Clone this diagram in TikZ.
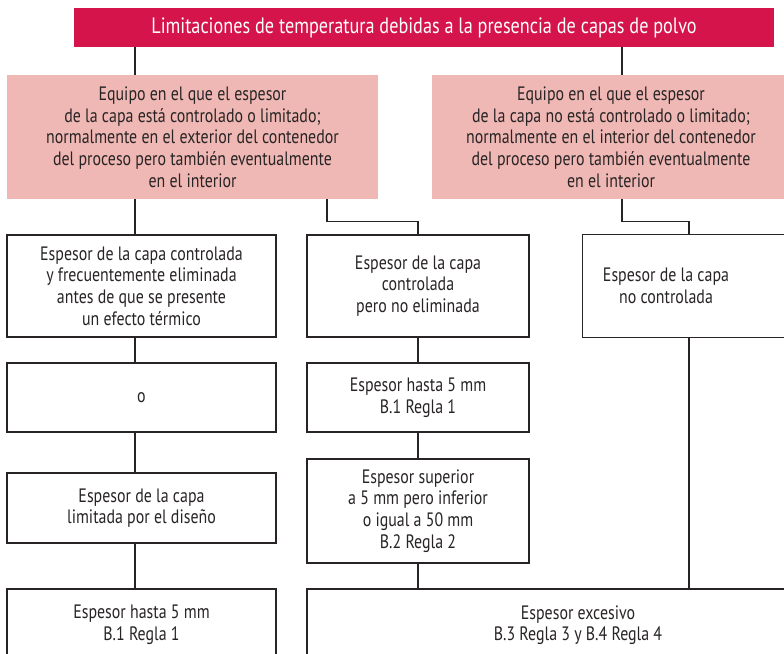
\documentclass[tikz,border=0pt]{standalone}
\usepackage{fontspec}
\setmainfont{PT Sans}[FakeStretch=0.82]
\definecolor{rojoT}{RGB}{212,20,74}
\definecolor{rosaE}{RGB}{240,184,180}
\definecolor{gris}{RGB}{40,36,37}

\begin{document}
\begin{tikzpicture}[
		titblock/.style={rectangle, fill=rojoT, text=white, minimum width=17.5cm,
			minimum height=0.975cm, font=\fontsize{15.8}{18}\selectfont},
		eqblock/.style={rectangle, fill=rosaE, text=gris, align=center,
			minimum height=3.1cm, font=\fontsize{13.8}{15.4}\selectfont},
		block/.style={draw=gris, line width=0.75pt, rectangle, text=gris, align=center,
			font=\fontsize{13.8}{15.4}\selectfont},
		txtblock/.style={rectangle, text=gris, align=center,
			font=\fontsize{13.8}{15.4}\selectfont},
		line/.style={draw=gris, line width=0.75pt},
		]
		\clip (0,0) rectangle (19.6,-16.325);
		
		%% ── COLUMNAS ───────────────────────────────────────────
		\coordinate (colA) at (3.375,0);
		\coordinate (colB) at (10.45,0);
		\coordinate (colC) at (17.225,0);
		\coordinate (tapL) at (8.175,0);
		\coordinate (tapR) at (15.55,0);
		
		%% ── TÍTULO Y EQUIPOS ───────────────────────────────────
		\node[titblock] (titulo) at (10.6,-0.6875)
			{Limitaciones de temperatura debidas a la presencia de capas de polvo};
		\node[eqblock, minimum width=9.275cm] (eqL) at (4.8125,-3.425)
			{Equipo en el que el espesor\\de la capa está controlado o limitado;\\normalmente en el exterior del contenedor\\del proceso pero también eventualmente\\en el interior};
		\node[eqblock, minimum width=8.95cm] (eqR) at (15.275,-3.425)
			{Equipo en el que el espesor\\de la capa no está controlado o limitado;\\normalmente en el interior del contenedor\\del proceso pero también eventualmente\\en el interior};
		
		\draw[line] (titulo.south -| colA) -- (eqL.north -| colA);
		\draw[line] (titulo.south -| tapR) -- (eqR.north -| tapR);
		
		%% ── FILA 2 ─────────────────────────────────────────────
		\node[block, minimum width=6.725cm, minimum height=2.55cm] (espA) at (3.5375,-7.15)
			{Espesor de la capa controlada\\y frecuentemente eliminada\\antes de que se presente\\un efecto térmico};
		\node[block, minimum width=5.55cm, minimum height=2.55cm] (espB) at (10.45,-7.15)
			{Espesor de la capa\\controlada\\pero no eliminada};
		\node[txtblock, minimum width=4.15cm, minimum height=2.55cm] (espC) at (16.65,-7.15)
			{Espesor de la capa\\no controlada};
		\draw[line] (espC.south west) rectangle ([xshift=3cm]espC.north east);
		
		\draw[line] (eqL.south -| colA) -- (espA.north -| colA);
		\draw[line] (eqL.south -| tapL) -- ++(0,-0.55) -| (espB.north);
		\draw[line] (eqR.south -| tapR) -- ++(0,-0.55) -| (espC.north -| colC);
		
		%% ── FILA 3 ─────────────────────────────────────────────
		\node[block, minimum width=6.725cm, minimum height=1.725cm] (espO) at (3.5375,-9.9375) {o};
		\node[block, minimum width=5.55cm, minimum height=1.725cm] (espE) at (10.45,-9.9375)
			{Espesor hasta 5 mm\\B.1 Regla 1};
		\node[block, minimum width=6.725cm, minimum height=1.75cm] (espG) at (3.5375,-12.7)
			{Espesor de la capa\\limitada por el diseño};
		\node[block, minimum width=5.55cm, minimum height=2.6cm] (espF) at (10.45,-12.775)
			{Espesor superior\\a 5 mm pero inferior\\o igual a 50 mm\\B.2 Regla 2};
		
		%% ── FILA INFERIOR ──────────────────────────────────────
		\node[block, minimum width=6.725cm, minimum height=1.8cm] (espH) at (3.5375,-15.625)
			{Espesor hasta 5 mm\\B.1 Regla 1};
		\node[block, minimum width=13.55cm, minimum height=1.8cm] (espI) at (14.45,-15.625)
			{Espesor excesivo\\B.3 Regla 3 y B.4 Regla 4};
		
		% columna izquierda
		\draw[line] (espA.south -| colA) -- (espO.north -| colA);
		\draw[line] (espO.south -| colA) -- (espG.north -| colA);
		\draw[line] (espG.south -| colA) -- (espH.north -| colA);
		% columna central
		\draw[line] (espB) -- (espE);
		\draw[line] (espE) -- (espF);
		\draw[line] (espF.south) -- (espI.north -| colB);
		% columna derecha
		\draw[line] (espC.south -| colC) -- (espI.north -| colC);
		
	\end{tikzpicture}
\end{document}
